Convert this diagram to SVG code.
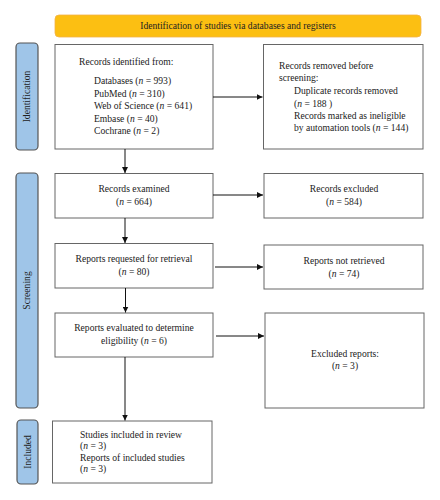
<svg xmlns="http://www.w3.org/2000/svg" width="440" height="500" viewBox="0 0 440 500">
<defs>
<marker id="ah" viewBox="0 0 10 10" refX="10" refY="5" markerWidth="6" markerHeight="6" orient="auto" markerUnits="userSpaceOnUse">
<path d="M0,0 L10,5 L0,10 z" fill="#111"/>
</marker>
<style>
.box{fill:#fff;stroke:#666;stroke-width:1}
.tab{fill:#9fc5e8;stroke:#555;stroke-width:1.2}
.ban{fill:#fcbf12;stroke:#f2b24a;stroke-width:0.8}
.t{font-family:"Liberation Serif","Times New Roman",serif;font-size:9.6px;fill:#222}
.c{text-anchor:middle}
.tl{font-family:"Liberation Serif","Times New Roman",serif;font-size:9.6px;fill:#222;text-anchor:middle}
.ln{stroke:#111;stroke-width:1;fill:none;marker-end:url(#ah)}
</style>
</defs>
<rect width="440" height="500" fill="#fff"/>
<g id="banner">
<rect class="ban" x="55" y="15" width="366" height="22" rx="4"/>
<text class="t c" x="238" y="29">Identification of studies via databases and registers</text>
</g>
<g id="tab-identification">
<rect class="tab" x="16" y="43" width="22" height="107" rx="4"/>
<text class="tl" transform="translate(30,96.5) rotate(-90)">Identification</text>
</g>
<g id="tab-screening">
<rect class="tab" x="16" y="173" width="22" height="235" rx="4"/>
<text class="tl" transform="translate(30,290.5) rotate(-90)">Screening</text>
</g>
<g id="tab-included">
<rect class="tab" x="17" y="420" width="21" height="64" rx="4"/>
<text class="tl" transform="translate(30.5,452) rotate(-90)">Included</text>
</g>
<g id="records-identified">
<rect class="box" x="55" y="44.5" width="158" height="104.5"/>
<text class="t" x="79" y="65">Records identified from:</text>
<text class="t" x="94" y="84">Databases (<tspan font-style="italic">n</tspan> = 993)</text>
<text class="t" x="94" y="96.5">PubMed (<tspan font-style="italic">n</tspan> = 310)</text>
<text class="t" x="94" y="109">Web of Science (<tspan font-style="italic">n</tspan> = 641)</text>
<text class="t" x="94" y="121.5">Embase (<tspan font-style="italic">n</tspan> = 40)</text>
<text class="t" x="94" y="134">Cochrane (<tspan font-style="italic">n</tspan> = 2)</text>
</g>
<g id="records-removed">
<rect class="box" x="263.5" y="44.5" width="159.5" height="104.5"/>
<text class="t" x="279" y="69">Records removed before</text>
<text class="t" x="279" y="81">screening:</text>
<text class="t" x="294" y="94">Duplicate records removed</text>
<text class="t" x="294" y="106.5">(<tspan font-style="italic">n</tspan> = 188 )</text>
<text class="t" x="294" y="119">Records marked as ineligible</text>
<text class="t" x="294" y="131">by automation tools (<tspan font-style="italic">n</tspan> = 144)</text>
</g>
<g id="records-examined">
<rect class="box" x="55" y="173.5" width="158" height="44.5"/>
<text class="t c" x="134" y="192">Records examined</text>
<text class="t c" x="134" y="205">(<tspan font-style="italic">n</tspan> = 664)</text>
</g>
<g id="records-excluded">
<rect class="box" x="264" y="173.5" width="159" height="44.5"/>
<text class="t c" x="344" y="192">Records excluded</text>
<text class="t c" x="344" y="205">(<tspan font-style="italic">n</tspan> = 584)</text>
</g>
<g id="reports-requested">
<rect class="box" x="55" y="243.5" width="158" height="44.5"/>
<text class="t c" x="134" y="262">Reports requested for retrieval</text>
<text class="t c" x="134" y="274.5">(<tspan font-style="italic">n</tspan> = 80)</text>
</g>
<g id="reports-not-retrieved">
<rect class="box" x="264" y="245" width="159" height="44"/>
<text class="t c" x="344" y="264">Reports not retrieved</text>
<text class="t c" x="344" y="276.5">(<tspan font-style="italic">n</tspan> = 74)</text>
</g>
<g id="reports-evaluated">
<rect class="box" x="55" y="313" width="158" height="44"/>
<text class="t c" x="134" y="331">Reports evaluated to determine</text>
<text class="t c" x="134" y="343.5">eligibility (<tspan font-style="italic">n</tspan> = 6)</text>
</g>
<g id="excluded-reports">
<rect class="box" x="265" y="313" width="159" height="95"/>
<text class="t c" x="345" y="357">Excluded reports:</text>
<text class="t c" x="345" y="368.5">(<tspan font-style="italic">n</tspan> = 3)</text>
</g>
<g id="studies-included">
<rect class="box" x="52.5" y="421" width="159.5" height="62"/>
<text class="t" x="80" y="437.5">Studies included in review</text>
<text class="t" x="80" y="449">(<tspan font-style="italic">n</tspan> = 3)</text>
<text class="t" x="80" y="460.5">Reports of included studies</text>
<text class="t" x="80" y="472">(<tspan font-style="italic">n</tspan> = 3)</text>
</g>
<g id="connectors">
<line class="ln" x1="213" y1="97" x2="262.5" y2="97"/>
<line class="ln" x1="125" y1="149" x2="125" y2="173"/>
<line class="ln" x1="213" y1="195" x2="263" y2="195"/>
<line class="ln" x1="125" y1="218" x2="125" y2="243"/>
<line class="ln" x1="215" y1="267" x2="263" y2="267"/>
<line class="ln" x1="125.5" y1="288" x2="125.5" y2="312.5"/>
<line class="ln" x1="216" y1="336" x2="264" y2="336"/>
<line class="ln" x1="125" y1="357" x2="125" y2="420.5"/>
</g>
</svg>
